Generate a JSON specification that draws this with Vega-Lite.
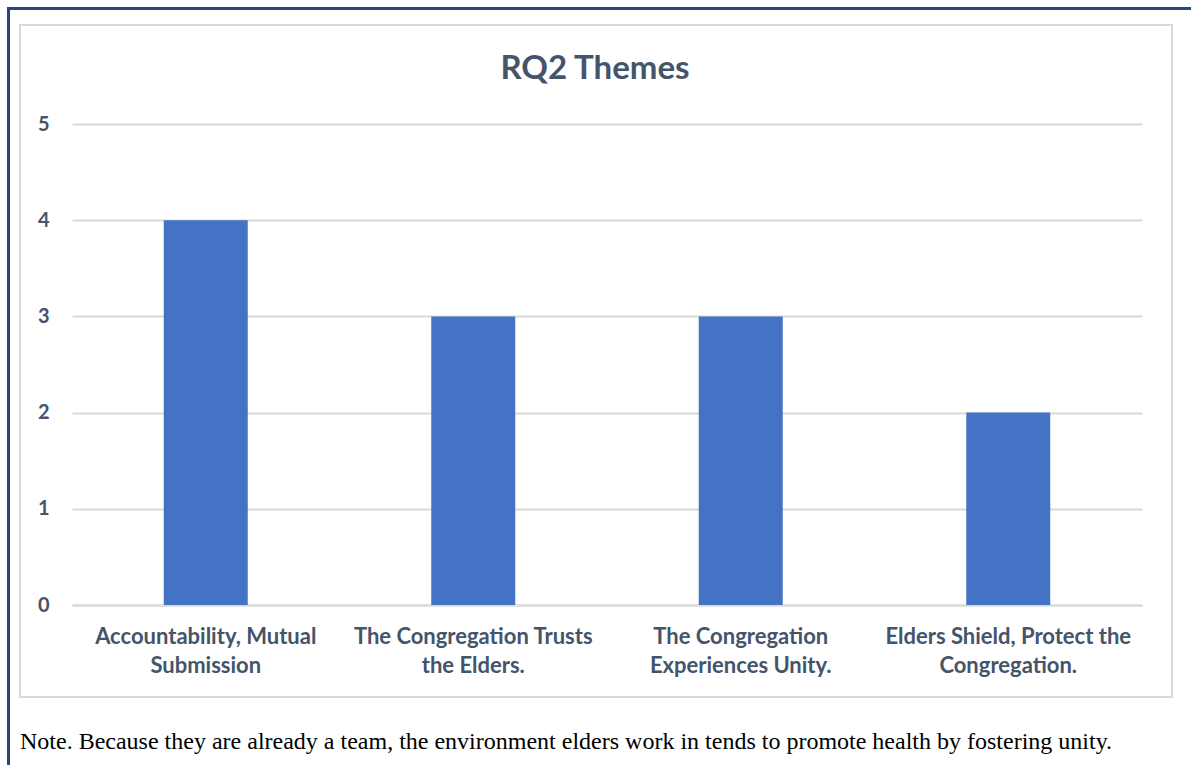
{
  "$schema": "https://vega.github.io/schema/vega-lite/v6.json",
  "width": 1070,
  "height": 481,
  "autosize": {"type": "none"},
  "padding": {"left": 72, "top": 124, "right": 49, "bottom": 160},
  "background": "white",
  "title": {
    "text": "RQ2 Themes",
    "font": "Lato",
    "fontSize": 33,
    "fontWeight": "bold",
    "color": "#44546a",
    "anchor": "middle",
    "frame": "group",
    "baseline": "alphabetic",
    "dx": -12,
    "offset": 0,
    "dy": 106
  },
  "config": {
    "view": {"stroke": null},
    "axis": {"labelFont": "Lato", "labelColor": "#44546a", "labelFontWeight": "bold"}
  },
  "layer": [
    {
      "data": {"values": [{}]},
      "mark": {"type": "rect", "fill": null, "stroke": "#d9d9d9", "strokeWidth": 2, "clip": false},
      "encoding": {
        "x": {"value": -52},
        "x2": {"value": 1100},
        "y": {"value": -99},
        "y2": {"value": 573}
      }
    },
    {
      "data": {"values": [{}]},
      "mark": {"type": "rule", "stroke": "#24497a", "strokeWidth": 3, "clip": false},
      "encoding": {
        "x": {"value": -63.5},
        "x2": {"value": 1119},
        "y": {"value": -115.5}
      }
    },
    {
      "data": {"values": [{}]},
      "mark": {"type": "rule", "stroke": "#24497a", "strokeWidth": 3, "clip": false},
      "encoding": {
        "x": {"value": -63.5},
        "y": {"value": -117},
        "y2": {"value": 641}
      }
    },
    {
      "data": {"values": [{"note": "Note. Because they are already a team, the environment elders work in tends to promote health by fostering unity."}]},
      "mark": {"type": "text", "font": "Liberation Serif", "fontSize": 24, "color": "black", "align": "left", "baseline": "alphabetic", "clip": false},
      "encoding": {
        "text": {"field": "note"},
        "x": {"value": -52},
        "y": {"value": 625}
      }
    },
    {
      "data": {
        "values": [
          {"theme": "Accountability, Mutual Submission", "count": 4},
          {"theme": "The Congregation Trusts the Elders.", "count": 3},
          {"theme": "The Congregation Experiences Unity.", "count": 3},
          {"theme": "Elders Shield, Protect the Congregation.", "count": 2}
        ]
      },
      "mark": {"type": "bar", "color": "#4472c4", "width": {"band": 0.314}},
      "encoding": {
        "x": {
          "field": "theme",
          "type": "nominal",
          "sort": null,
          "scale": {"paddingInner": 0, "paddingOuter": 0},
          "axis": {
            "title": null,
            "labelAngle": 0,
            "labelFontSize": 22,
            "labelLineHeight": 29,
            "labelPadding": 21,
            "labelBaseline": "top",
            "labelLimit": 400,
            "ticks": false,
            "domainColor": "#d9d9d9",
            "domainWidth": 2,
            "labelExpr": "datum.value == 'Accountability, Mutual Submission' ? ['Accountability, Mutual', 'Submission'] : datum.value == 'The Congregation Trusts the Elders.' ? ['The Congregation Trusts', 'the Elders.'] : datum.value == 'The Congregation Experiences Unity.' ? ['The Congregation', 'Experiences Unity.'] : ['Elders Shield, Protect the', 'Congregation.']"
          }
        },
        "y": {
          "field": "count",
          "type": "quantitative",
          "scale": {"domain": [0, 5]},
          "axis": {
            "title": null,
            "tickCount": 5,
            "labelFontSize": 20,
            "labelPadding": 23,
            "ticks": false,
            "domain": false,
            "gridColor": "#d9d9d9",
            "gridWidth": 2
          }
        }
      }
    }
  ]
}
